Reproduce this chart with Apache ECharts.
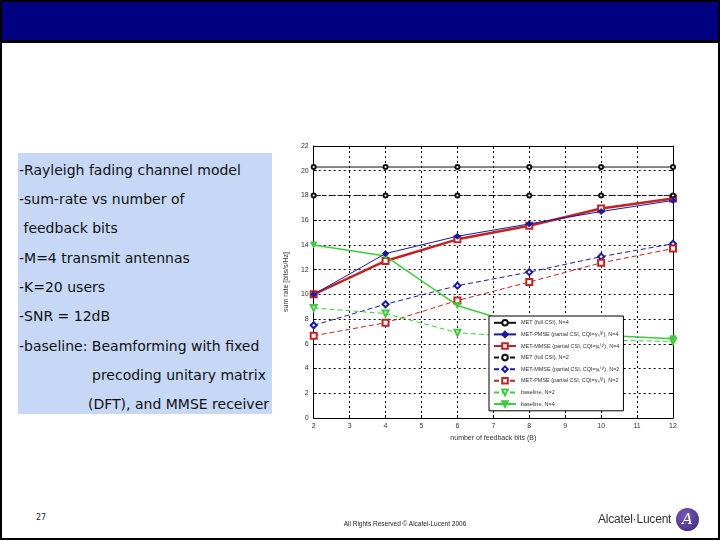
<!DOCTYPE html>
<html>
<head>
<meta charset="utf-8">
<script src="https://cdn.jsdelivr.net/npm/echarts@6/dist/echarts.min.js"></script>
<style>
html,body{margin:0;padding:0;background:#fff;}
#slide{position:relative;width:720px;height:540px;overflow:hidden;background:#fff;}
#frame{position:absolute;left:0;top:0;width:720px;height:540px;box-sizing:border-box;border:2px solid #000;}
#header{position:absolute;left:0;top:0;width:720px;height:43px;box-sizing:border-box;background:#000080;border:2px solid #000;border-bottom:3px solid #000;}
#box{position:absolute;left:18px;top:153px;width:254px;height:261px;background:#c6d8f6;}
.ln{position:absolute;font-family:"DejaVu Sans",sans-serif;font-size:14px;color:#111;white-space:pre;line-height:16px;}
#chart{position:absolute;left:275px;top:135px;width:425px;height:315px;}
#pg{position:absolute;left:36px;top:513px;font-family:"DejaVu Sans",sans-serif;font-size:8px;color:#222;}
#copy{position:absolute;left:320px;top:520px;width:170px;text-align:center;font-family:"Liberation Sans",sans-serif;font-size:6.5px;color:#222;}
#logo{position:absolute;left:598px;top:512px;font-family:"Liberation Sans",sans-serif;font-size:12px;color:#333;letter-spacing:-0.2px;}
#circ{position:absolute;left:676px;top:508px;width:23px;height:23px;border-radius:50%;background:radial-gradient(circle at 40% 35%,#7a5bb5,#3e2478);}
#circ span{position:absolute;left:6px;top:2px;font-family:"DejaVu Serif",serif;font-style:italic;font-size:15px;color:#fff;}
</style>
</head>
<body>
<div id="slide">
  <div id="header"></div>
  <div id="box"></div>
  <div class="ln" style="left:19px;top:162px;">-Rayleigh fading channel model</div>
  <div class="ln" style="left:19px;top:191px;">-sum-rate vs number of</div>
  <div class="ln" style="left:19px;top:220px;"> feedback bits</div>
  <div class="ln" style="left:19px;top:250px;">-M=4 transmit antennas</div>
  <div class="ln" style="left:19px;top:279px;">-K=20 users</div>
  <div class="ln" style="left:19px;top:308px;">-SNR = 12dB</div>
  <div class="ln" style="left:19px;top:338px;">-baseline: Beamforming with fixed</div>
  <div class="ln" style="left:92px;top:367px;">precoding unitary matrix</div>
  <div class="ln" style="left:88px;top:396px;">(DFT), and MMSE receiver</div>
  <div id="chart"></div>
  <div id="pg">27</div>
  <div id="copy">All Rights Reserved © Alcatel-Lucent 2006</div>
  <div id="logo">Alcatel·Lucent</div>
  <div id="circ"><span>A</span></div>
  <div id="frame"></div>
</div>
<script>
// ---- data ----
const feedbackBits = [2, 4, 6, 8, 10, 12];
const yTicks = [0, 2, 4, 6, 8, 10, 12, 14, 16, 18, 20, 22];
const seriesNames = [
  'MET (full CSI), N=4',
  'MET-PMSE (partial CSI, CQI=γₖ⁽¹⁾), N=4',
  'MET-MMSE (partial CSI, CQI=γₖ⁽¹⁾), N=4',
  'MET (full CSI), N=2',
  'MET-MMSE (partial CSI, CQI=γₖ⁽¹⁾), N=2',
  'MET-PMSE (partial CSI, CQI=γₖ⁽¹⁾), N=2',
  'baseline, N=2',
  'baseline, N=4'
];
const fullCsiN4   = [20.3, 20.3, 20.3, 20.3, 20.3, 20.3];
const pmseN4      = [10.0, 13.3, 14.7, 15.7, 16.7, 17.6];
const mmseN4      = [10.0, 12.7, 14.45, 15.55, 16.95, 17.75];
const fullCsiN2   = [18.0, 18.0, 18.0, 18.0, 18.0, 18.0];
const mmseN2      = [7.5, 9.2, 10.7, 11.8, 13.05, 14.1];
const pmseN2      = [6.65, 7.7, 9.5, 11.0, 12.55, 13.7];
const baselineN2  = [8.9, 8.45, 6.9, 6.5, 6.3, 6.2];
const baselineN4  = [14.0, 13.1, 9.1, 7.3, 6.7, 6.4];

function pairs(v){ return feedbackBits.map((x,i)=>[x, v[i]]); }

const BLACK='#111', BLUE='#1a1aa0', RED='#c02424', GREEN='#3ecc3e';
function mk(name, data, color, opts){
  return Object.assign({
    name, type:'line', data: pairs(data), color,
    lineStyle:{color, width:1, type:'solid'},
    itemStyle:{color, borderColor:color, borderWidth:1},
    symbolSize:6, symbol:'emptyCircle', showSymbol:true, showAllSymbol:true, z:3
  }, opts);
}
const series = [
  mk(seriesNames[0], fullCsiN4, BLACK, {symbol:'emptyCircle', symbolSize:4}),
  mk(seriesNames[1], pmseN4, BLUE, {symbol:'diamond', symbolSize:6, z:5}),
  mk(seriesNames[2], mmseN4, RED, {symbol:'emptyRect', symbolSize:6, lineStyle:{color:RED,width:2.5}, itemStyle:{color:RED,borderColor:RED,borderWidth:1.5}}),
  mk(seriesNames[3], fullCsiN2, BLACK, {symbol:'emptyCircle', symbolSize:4, lineStyle:{color:BLACK,width:1,type:[5,3]}}),
  mk(seriesNames[4], mmseN2, BLUE, {symbol:'emptyDiamond', symbolSize:6, lineStyle:{color:BLUE,width:1,type:[5,3]}}),
  mk(seriesNames[5], pmseN2, RED, {symbol:'emptyRect', symbolSize:6, lineStyle:{color:RED,width:1,type:[5,3]}}),
  mk(seriesNames[6], baselineN2, GREEN, {symbol:'emptyTriangle', symbolRotate:180, symbolSize:6, lineStyle:{color:GREEN,width:1,type:[5,3]}}),
  mk(seriesNames[7], baselineN4, GREEN, {symbol:'triangle', symbolRotate:180, symbolSize:6, lineStyle:{color:GREEN,width:1.5}})
];

const chart = echarts.init(document.getElementById('chart'), null, {renderer:'canvas'});
const tickFont = {fontSize:7, color:'#333', fontFamily:'Liberation Sans'};
chart.setOption({
  animation:false,
  backgroundColor:'transparent',
  grid:{left:31, top:11, width:367, height:272},
  legend:{
    orient:'vertical', left:214, top:181,
    data: seriesNames,
    backgroundColor:'#fff', borderColor:'#000', borderWidth:1,
    padding:[3,4,3,4], itemGap:4, itemWidth:22, itemHeight:7,
    textStyle:{fontSize:5.5, color:'#333', fontFamily:'Liberation Sans'},
    z:10
  },
  xAxis:[{
    type:'value', min:2, max:12, interval:1,
    name:'number of feedback bits (B)', nameLocation:'middle', nameGap:14,
    nameTextStyle:{fontSize:7, color:'#333', fontFamily:'Liberation Sans'},
    axisLine:{show:true, lineStyle:{color:'#000', width:1}},
    axisTick:{show:true, inside:true, length:3, lineStyle:{color:'#000'}},
    axisLabel:Object.assign({margin:5}, tickFont),
    splitLine:{show:true, lineStyle:{color:'#000', type:[2,3], width:1}}
  },{
    type:'value', min:2, max:12, interval:1, position:'top',
    axisLine:{show:true, onZero:false, lineStyle:{color:'#000', width:1}},
    axisTick:{show:true, inside:true, length:3, lineStyle:{color:'#000'}},
    axisLabel:{show:false}, splitLine:{show:false}
  }],
  yAxis:[{
    type:'value', min:0, max:22, interval:2,
    name:'sum rate [bits/s/Hz]', nameLocation:'middle', nameGap:17, nameRotate:90,
    nameTextStyle:{fontSize:7, color:'#333', fontFamily:'Liberation Sans'},
    axisLine:{show:true, lineStyle:{color:'#000', width:1}},
    axisTick:{show:true, inside:true, length:3, lineStyle:{color:'#000'}},
    axisLabel:Object.assign({margin:5}, tickFont),
    splitLine:{show:true, lineStyle:{color:'#000', type:[2,3], width:1}}
  },{
    type:'value', min:0, max:22, interval:2, position:'right',
    axisLine:{show:true, onZero:false, lineStyle:{color:'#000', width:1}},
    axisTick:{show:true, inside:true, length:3, lineStyle:{color:'#000'}},
    axisLabel:{show:false}, splitLine:{show:false}
  }],
  series: series
});
</script>
</body>
</html>
